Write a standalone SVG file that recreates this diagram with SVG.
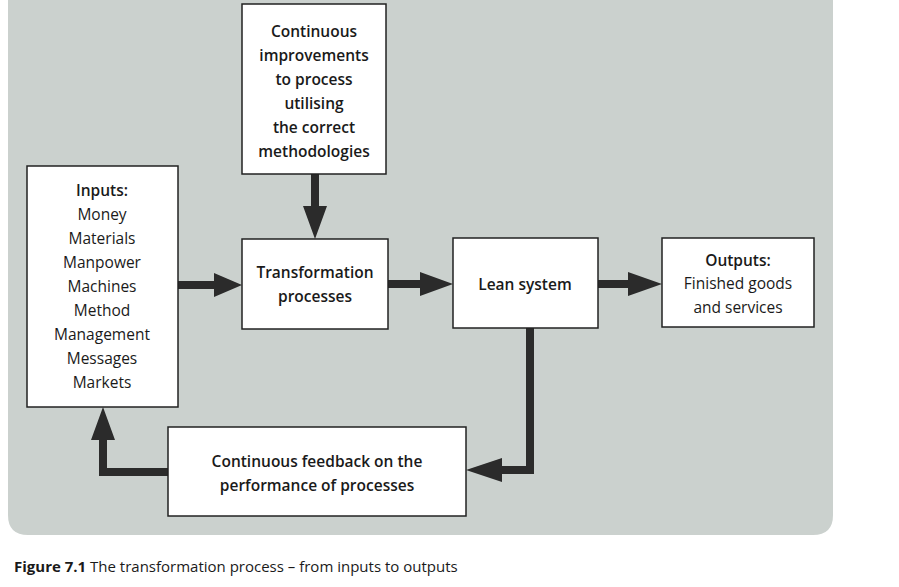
<svg xmlns="http://www.w3.org/2000/svg" width="899" height="587" viewBox="0 0 899 587">
<style>
.box{fill:#fff;stroke:#222;stroke-width:1.5}
text{font-family:"Open Sans","Liberation Sans",sans-serif;font-size:15.5px;fill:#1a1a1a;text-anchor:middle}
.b{font-weight:600}
.ar{fill:#2b2b2b}
</style>
<rect width="899" height="587" fill="#fff"/>
<path d="M8 0H833V515Q833 535 813 535H28Q8 535 8 515Z" fill="#cbd1ce"/>
<g id="connectors" class="ar">
<path d="M178 281H214V273L242 285L214 297V289H178Z"/>
<path d="M388 280H420V272L453 284L420 296V288H388Z"/>
<path d="M598 280H628V272L662 284L628 296V288H598Z"/>
<path d="M311 174V206H303L315 239L327 206H319V174Z"/>
<path d="M526 328H534V474H502V482L466 470L502 458V466H526Z"/>
<path d="M168 468V476H99V440H91L103 407L115 440H107V468Z"/>
</g>
<g id="inputs"><rect class="box" x="27" y="166" width="151" height="241"/>
<text class="b" x="102" y="196">Inputs:</text>
<text x="102" y="220">Money</text><text x="102" y="244">Materials</text><text x="102" y="268">Manpower</text><text x="102" y="292">Machines</text><text x="102" y="316">Method</text><text x="102" y="340">Management</text><text x="102" y="364">Messages</text><text x="102" y="388">Markets</text></g>
<g id="improve"><rect class="box" x="242" y="4" width="144" height="170"/>
<text class="b" x="314" y="37">Continuous</text><text class="b" x="314" y="61">improvements</text><text class="b" x="314" y="85">to process</text><text class="b" x="314" y="109">utilising</text><text class="b" x="314" y="133">the correct</text><text class="b" x="314" y="157">methodologies</text></g>
<g id="transform"><rect class="box" x="242" y="239" width="146" height="90"/>
<text class="b" x="315" y="278">Transformation</text><text class="b" x="315" y="302">processes</text></g>
<g id="lean"><rect class="box" x="453" y="238" width="145" height="90"/>
<text class="b" x="525" y="290">Lean system</text></g>
<g id="outputs"><rect class="box" x="662" y="238" width="152" height="89"/>
<text class="b" x="738" y="266">Outputs:</text><text x="738" y="289">Finished goods</text><text x="738" y="313">and services</text></g>
<g id="feedback"><rect class="box" x="168" y="427" width="298" height="89"/>
<text class="b" x="317" y="467">Continuous feedback on the</text><text class="b" x="317" y="491">performance of processes</text></g>
<text x="14" y="572" style="text-anchor:start;font-size:15px"><tspan font-weight="700">Figure 7.1</tspan>  The transformation process – from inputs to outputs</text>
</svg>
